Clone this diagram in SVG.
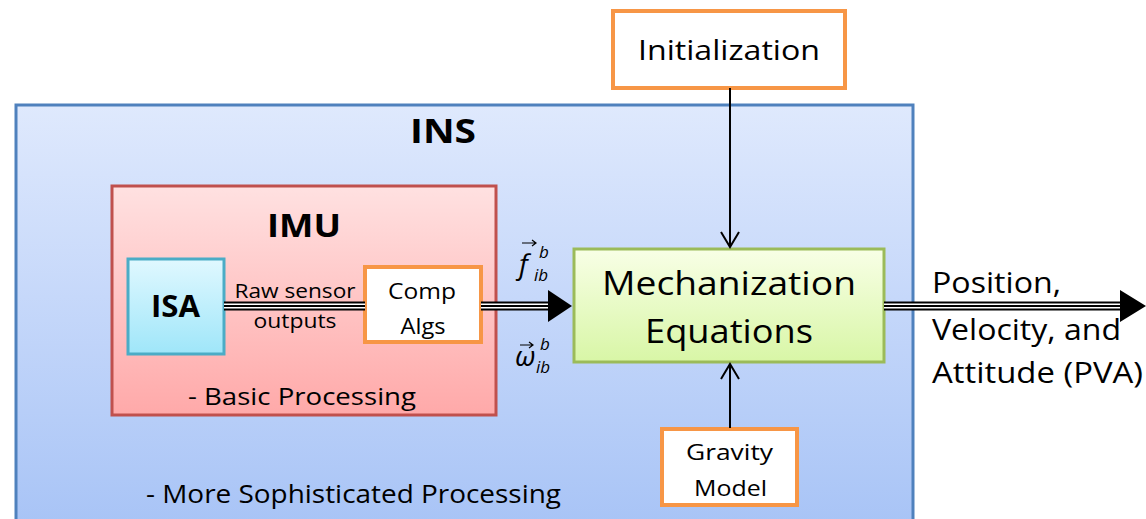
<svg xmlns="http://www.w3.org/2000/svg" width="1146" height="519" viewBox="0 0 1146 519">
<defs>
<linearGradient id="gIns" x1="0" y1="0" x2="0" y2="1"><stop offset="0" stop-color="#dfe9fd"/><stop offset="1" stop-color="#a7c3f6"/></linearGradient>
<linearGradient id="gImu" x1="0" y1="0" x2="0" y2="1"><stop offset="0" stop-color="#ffe1e1"/><stop offset="1" stop-color="#ffa9a9"/></linearGradient>
<linearGradient id="gIsa" x1="0" y1="0" x2="0" y2="1"><stop offset="0" stop-color="#e0f8ff"/><stop offset="1" stop-color="#9fe6f9"/></linearGradient>
<linearGradient id="gMech" x1="0" y1="0" x2="0" y2="1"><stop offset="0" stop-color="#f8ffe6"/><stop offset="1" stop-color="#d8f6a6"/></linearGradient>
<marker id="open" markerWidth="20" markerHeight="20" viewBox="0 0 20 20" refX="18" refY="10" orient="auto" markerUnits="userSpaceOnUse"><path d="M3,1 L18,10 L3,19" fill="none" stroke="#000" stroke-width="2"/></marker>
</defs>
<style>
text{font-family:"Open Sans","Noto Sans",sans-serif;fill:#000}
.b{font-weight:bold}
.obox{fill:#fff;stroke:#f79646;stroke-width:4}
.m{font-family:"Liberation Serif",serif;font-style:italic}
.t1{stroke:#000;stroke-width:9;fill:none}
.t2{stroke:#fff;stroke-width:5;fill:none}
.t3{stroke:#000;stroke-width:2;fill:none}
</style>
<g id="ins">
<rect x="16" y="105" width="897" height="430" fill="url(#gIns)" stroke="#4f81bd" stroke-width="3"/>
<text class="b" x="443" y="143" font-size="34" text-anchor="middle" textLength="66" lengthAdjust="spacingAndGlyphs">INS</text>
<text x="146" y="503" font-size="25" textLength="415" lengthAdjust="spacingAndGlyphs">- More Sophisticated Processing</text>
</g>
<g id="imu">
<rect x="112" y="186" width="384" height="229" fill="url(#gImu)" stroke="#c0504d" stroke-width="3"/>
<text class="b" x="304" y="237" font-size="32" text-anchor="middle" textLength="74" lengthAdjust="spacingAndGlyphs">IMU</text>
<text x="188" y="405" font-size="24" textLength="228" lengthAdjust="spacingAndGlyphs">- Basic Processing</text>
</g>
<g id="isa">
<rect x="128" y="259" width="96" height="95" fill="url(#gIsa)" stroke="#4bacc6" stroke-width="3"/>
<text class="b" x="175.5" y="317" font-size="30" text-anchor="middle" textLength="49" lengthAdjust="spacingAndGlyphs">ISA</text>
</g>
<g id="comp">
<rect class="obox" x="365" y="267" width="116" height="75"/>
<text x="422" y="299" font-size="22" text-anchor="middle" textLength="68" lengthAdjust="spacingAndGlyphs">Comp</text>
<text x="423" y="334" font-size="22" text-anchor="middle" textLength="45" lengthAdjust="spacingAndGlyphs">Algs</text>
</g>
<g id="mech">
<rect x="574" y="249" width="310" height="113" fill="url(#gMech)" stroke="#9bbb59" stroke-width="3"/>
<text x="729" y="295" font-size="33" text-anchor="middle" textLength="254" lengthAdjust="spacingAndGlyphs">Mechanization</text>
<text x="729" y="343" font-size="33" text-anchor="middle" textLength="168" lengthAdjust="spacingAndGlyphs">Equations</text>
</g>
<g id="init">
<rect class="obox" x="613" y="11" width="232" height="77"/>
<text x="729" y="60" font-size="28" text-anchor="middle" textLength="182" lengthAdjust="spacingAndGlyphs">Initialization</text>
</g>
<g id="gravity">
<rect class="obox" x="662" y="429" width="135" height="76"/>
<text x="729.5" y="460" font-size="22" text-anchor="middle" textLength="87" lengthAdjust="spacingAndGlyphs">Gravity</text>
<text x="730.5" y="496" font-size="22" text-anchor="middle" textLength="73" lengthAdjust="spacingAndGlyphs">Model</text>
</g>
<g id="connectors">
<path class="t1" d="M224,306 H365"/><path class="t2" d="M224,306 H365"/><path class="t3" d="M224,306 H365"/>
<path class="t1" d="M481,306 H550"/><path class="t2" d="M481,306 H552"/><path class="t3" d="M481,306 H552"/>
<path d="M548,290 L572,306 L548,322 Z" fill="#000"/>
<path class="t1" d="M884,306 H1124"/><path class="t2" d="M884,306 H1126"/><path class="t3" d="M884,306 H1126"/>
<path d="M1120,290 L1146,306 L1120,322 Z" fill="#000"/>
<line x1="730" y1="88" x2="730" y2="247" stroke="#000" stroke-width="2" marker-end="url(#open)"/>
<line x1="730" y1="428" x2="730" y2="364" stroke="#000" stroke-width="2" marker-end="url(#open)"/>
<text x="295" y="298" font-size="20" text-anchor="middle" textLength="121" lengthAdjust="spacingAndGlyphs">Raw sensor</text>
<text x="295" y="328" font-size="20" text-anchor="middle" textLength="83" lengthAdjust="spacingAndGlyphs">outputs</text>
<text x="932" y="293" font-size="29" textLength="129" lengthAdjust="spacingAndGlyphs">Position,</text>
<text x="932" y="340" font-size="29" textLength="189" lengthAdjust="spacingAndGlyphs">Velocity, and</text>
<text x="932" y="383" font-size="29" textLength="211" lengthAdjust="spacingAndGlyphs">Attitude (PVA)</text>
<g class="m">
<text x="519" y="274" font-size="28">f</text>
<text x="534" y="281" font-size="17">ib</text>
<text x="539" y="258" font-size="17">b</text>
<path d="M522,243 H536 M532,240 L536,243 L532,246" stroke="#000" stroke-width="1.2" fill="none"/>
<text x="515" y="366" font-size="28">ω</text>
<text x="536" y="373" font-size="17">ib</text>
<text x="540" y="350" font-size="17">b</text>
<path d="M520,345 H533 M529,342 L533,345 L529,348" stroke="#000" stroke-width="1.2" fill="none"/>
</g>
</g>
</svg>
